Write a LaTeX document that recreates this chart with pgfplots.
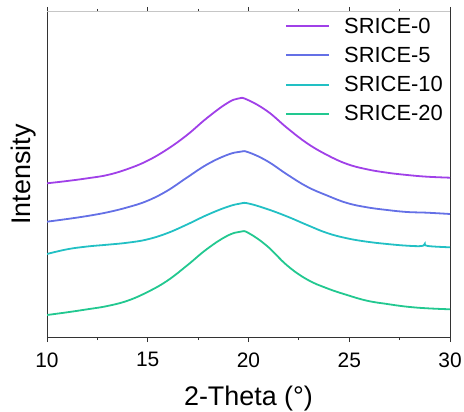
\documentclass[border=0pt]{standalone}
\usepackage{fontspec}
\setmainfont{Liberation Sans}
\usepackage{pgfplots}
\pgfplotsset{compat=1.18}
\usetikzlibrary{calc}
\definecolor{cA}{HTML}{A040E8}
\definecolor{cB}{HTML}{6470E6}
\definecolor{cC}{HTML}{22C0C4}
\definecolor{cD}{HTML}{22C890}
\definecolor{axc}{HTML}{333333}
\begin{document}
\begin{tikzpicture}
\begin{axis}[
  name=ax,
  scale only axis,
  width=403bp, height=325bp,
  xmin=10, xmax=30, ymin=0, ymax=325,
  xtick={10,15,20,25,30},
  minor x tick num=1,
  ytick=\empty,
  tick align=outside,
  major tick length=5bp, minor tick length=3bp,
  tick style={axc, line width=0.8bp},
  axis line style={axc, line width=1bp},
  /pgf/number format/assume math mode=true,
  ticklabel style={font=\fontsize{21}{24}\selectfont},
  xticklabel style={yshift=-7bp},
  xlabel={2-Theta (°)},
  ylabel={Intensity},
  label style={font=\fontsize{27}{30}\selectfont},
  xlabel style={yshift=-12bp},
  ylabel style={yshift=2bp},
  legend cell align=left,
  legend style={draw=none, fill=none, at={(0.995,0.995)}, anchor=north east,
    font=\fontsize{22}{24}\selectfont, row sep=8.5bp,
    /tikz/every odd column/.append style={column sep=12bp}},
  legend image code/.code={\draw[#1, line width=2bp] (0bp,0bp) -- (43bp,0bp);},
  every axis plot/.append style={line width=1.8bp, smooth, tension=0.7},
]
\draw[gray!45, line width=1bp] (rel axis cs:0,1) -- (rel axis cs:1,1);
\addplot[cA] coordinates {
(10,153.7) (11,156) (12,158.7) (13,162) (14,168) (14.96,176) (15.95,187.5)
(16.95,202) (17.94,219) (18.93,233.7) (19.5,238.5) (19.92,237.5)
(20.92,226) (21.92,209) (22.91,193.7) (23.9,182) (24.89,173)
(25.88,167.7) (26.88,164.3) (27.87,162) (28.86,160.3) (30,159.3)};
\addlegendentry{SRICE-0}
\addplot[cB] coordinates {
(10,115.3) (11,118) (12,121) (13,124.7) (14,129.7) (14.96,136) (15.95,146)
(16.95,159.5) (17.94,172.5) (18.93,182) (19.6,185.3) (20,184.7)
(20.92,176) (21.92,162.5) (22.91,150.3) (23.9,141.5) (24.89,134)
(25.88,129.7) (26.88,127) (27.87,125) (28.86,124.3) (30,123)};
\addlegendentry{SRICE-5}
\addplot[cC] coordinates {
(10,83) (11,87.7) (12,90.5) (13,92.3) (14,94.3) (14.96,97.5) (15.95,103.7)
(16.95,112.5) (17.94,122) (18.93,130) (19.6,133.5) (20,133.5)
(20.92,128) (21.92,120.5) (22.91,112) (23.9,104) (24.89,98.7)
(25.88,95.3) (26.88,93) (27.87,91.3) (28.6,91) (28.75,93.3) (28.9,91) (30,89.7)};
\addlegendentry{SRICE-10}
\addplot[cD] coordinates {
(10,22) (11,24.7) (12,27.7) (13,31) (14,36.3) (14.96,44.7) (15.95,56)
(16.95,71.5) (17.94,88) (18.93,101) (19.6,105.3) (20,104)
(20.92,91) (21.92,71.5) (22.91,57.5) (23.9,48.7) (24.89,42)
(25.88,36.3) (26.88,33) (27.87,30.3) (28.86,28.7) (30,27.7)};
\addlegendentry{SRICE-20}
\end{axis}
\pgfresetboundingbox
\useasboundingbox ($(ax.south west)+(-47bp,-75bp)$) rectangle ($(ax.north east)+(14bp,12bp)$);
\end{tikzpicture}
\end{document}
